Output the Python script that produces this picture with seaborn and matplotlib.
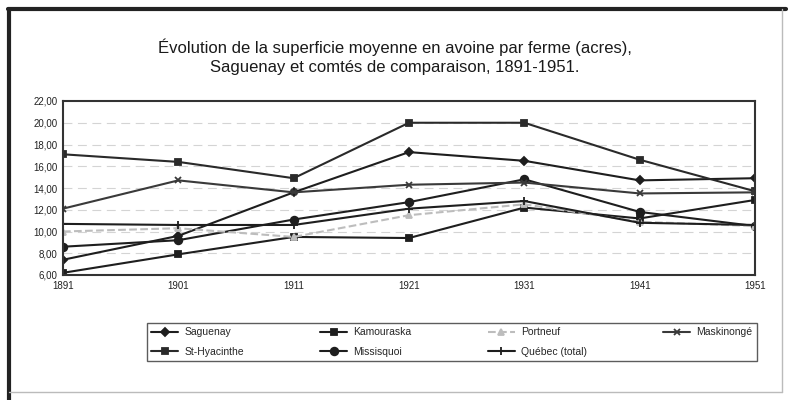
import numpy as np
import matplotlib
matplotlib.use("Agg")
import matplotlib.pyplot as plt
import seaborn as sns
from matplotlib.lines import Line2D
from matplotlib.ticker import FuncFormatter

sns.set_style("white")
plt.rcParams['font.family'] = ['Liberation Sans', 'DejaVu Sans']

# Data (acres per farm)
years = [1891, 1901, 1911, 1921, 1931, 1941, 1951]
saguenay = [7.4, 9.6, 13.6, 17.3, 16.5, 14.7, 14.9]
kamouraska = [6.2, 7.9, 9.5, 9.4, 12.2, 11.2, 12.9]
portneuf = [10.0, 10.3, 9.5, 11.5, 12.5, 10.9, 10.5]
maskinonge = [12.1, 14.7, 13.6, 14.3, 14.5, 13.5, 13.6]
st_hyacinthe = [17.1, 16.4, 14.9, 20.0, 20.0, 16.6, 13.7]
missisquoi = [8.6, 9.2, 11.1, 12.7, 14.8, 11.8, 10.5]
quebec = [10.7, 10.6, 10.6, 12.1, 12.8, 10.8, 10.6]

series = [
    # label, values, marker, color, linestyle, marker size
    ("Saguenay", saguenay, "D", "#1e1e1e", "-", 4),
    ("St-Hyacinthe", st_hyacinthe, "s", "#2a2a2a", "-", 5),
    ("Kamouraska", kamouraska, "s", "#1e1e1e", "-", 5),
    ("Missisquoi", missisquoi, "o", "#1e1e1e", "-", 5.5),
    ("Portneuf", portneuf, "^", "#bdbdbd", "--", 4.5),
    ("Québec (total)", quebec, "+", "#1e1e1e", "-", 6),
    ("Maskinongé", maskinonge, "x", "#3a3a3a", "-", 4.5),
]

fig = plt.figure(figsize=(7.9, 4), dpi=100)
ax = fig.add_axes([0.0797, 0.3125, 0.876, 0.435])

for label, vals, mk, col, ls, ms in series:
    sns.lineplot(x=years, y=vals, ax=ax, color=col, linestyle=ls, marker=mk,
                 markersize=ms, markeredgecolor=col, markeredgewidth=1.3,
                 linewidth=1.5, label=label)

ax.set_xlim(1891, 1951)
ax.set_ylim(6, 22)
ax.set_xticks(years)
ax.set_yticks(np.arange(6, 23, 2))
ax.yaxis.set_major_formatter(FuncFormatter(lambda v, p: f"{v:.2f}".replace(".", ",")))
ax.tick_params(axis='both', labelsize=7, length=0, pad=4, colors="#222222")
ax.set_xlabel("")
ax.set_ylabel("")

# faint dashed gridlines
for v in range(8, 22, 2):
    ax.axhline(v, color="#d4d4d4", linewidth=0.8, linestyle=(0, (8, 5)), zorder=0)

for side in ax.spines.values():
    side.set_color("#333333")
    side.set_linewidth(1.5)

fig.suptitle("Évolution de la superficie moyenne en avoine par ferme (acres),\n"
             "Saguenay et comtés de comparaison, 1891-1951.",
             x=0.5, y=0.905, fontsize=12, linespacing=1.35, color="#1a1a1a")

handles, labels = ax.get_legend_handles_labels()
ax.get_legend().remove()
fig.legend(handles, labels, ncol=4, loc="lower left",
           bbox_to_anchor=(0.186, 0.098, 0.772, 0.13), mode="expand",
           fontsize=7.5, frameon=True, fancybox=False, edgecolor="#333333",
           handlelength=2.6, handletextpad=0.6, borderaxespad=0, labelspacing=0.9)

# scanned page frame
fig.add_artist(Line2D([0.010, 0.995], [0.978, 0.978], transform=fig.transFigure,
                      color="#222222", linewidth=3))
fig.add_artist(Line2D([0.012, 0.012], [0.0, 0.978], transform=fig.transFigure,
                      color="#222222", linewidth=3))
fig.add_artist(Line2D([0.99, 0.99], [0.02, 0.978], transform=fig.transFigure,
                      color="#bbbbbb", linewidth=1))
fig.add_artist(Line2D([0.012, 0.99], [0.02, 0.02], transform=fig.transFigure,
                      color="#bbbbbb", linewidth=1))

fig.savefig("out.png", dpi=100)
